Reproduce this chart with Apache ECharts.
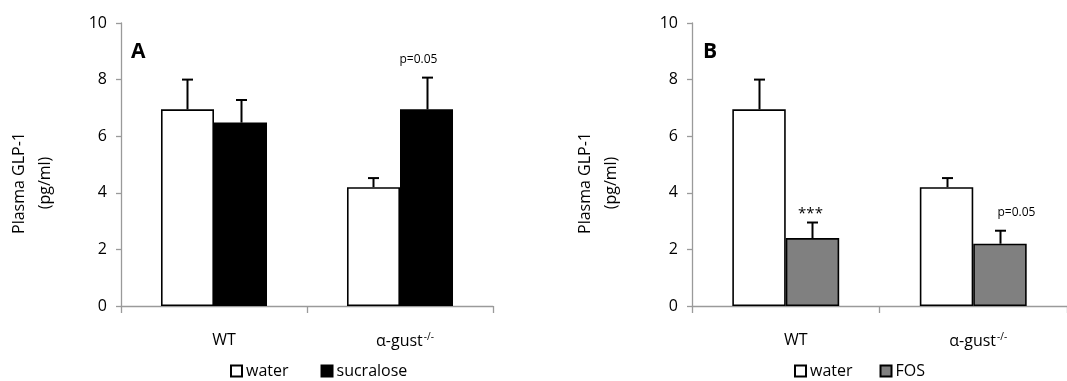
<!DOCTYPE html>
<html>
<head>
<meta charset="utf-8">
<script src="https://cdn.jsdelivr.net/npm/echarts@6/dist/echarts.min.js"></script>
<style>
  html, body { margin: 0; padding: 0; background: #fff; }
  #chart { width: 1067px; height: 381px; }
</style>
</head>
<body>
<div id="chart"></div>
<script>
// Plasma GLP-1 (pg/ml), mean and upper error, per genotype
const categories = ['WT', 'α-gust'];
const yTicks = [0, 2, 4, 6, 8, 10];

// Panel A: water vs sucralose
const waterA = [6.95, 4.2];
const waterAErr = [1.05, 0.32];
const sucraloseA = [6.48, 6.95];
const sucraloseAErr = [0.8, 1.12];
const notesA = ['', 'p=0.05'];

// Panel B: water vs FOS
const waterB = [6.95, 4.2];
const waterBErr = [1.05, 0.32];
const fosB = [2.4, 2.2];
const fosBErr = [0.55, 0.46];
const notesB = ['***', 'p=0.05'];

const FONT = '"Open Sans", "Liberation Sans", sans-serif';
const AXIS_GREY = '#9a9a9a';
const BAR_SHARE = 0.285; // bar width as a share of the category band
const LABEL_SIZE = 16;

function yAxisCfg(gridIndex) {
  return {
    type: 'value', gridIndex, min: 0, max: 10, interval: 2,
    axisLine: { show: true, lineStyle: { color: AXIS_GREY, width: 1.3 } },
    axisTick: { show: true, length: 5, lineStyle: { color: AXIS_GREY, width: 1.3 } },
    splitLine: { show: false },
    axisLabel: {
      margin: 14, color: '#000', fontSize: LABEL_SIZE, fontFamily: FONT,
      formatter: v => (yTicks.includes(v) ? String(v) : '')
    }
  };
}

function xAxisCfg(gridIndex) {
  return {
    type: 'category', gridIndex, data: categories,
    axisLine: { show: true, lineStyle: { color: AXIS_GREY, width: 1.3 } },
    axisTick: { show: true, length: 7, lineStyle: { color: AXIS_GREY, width: 1.3 } },
    axisLabel: {
      margin: 26, color: '#000', fontSize: LABEL_SIZE, fontFamily: FONT,
      formatter: v => (v === 'WT' ? '{wt|WT}' : '{g|' + v + '}{sup|-/-}'),
      rich: {
        wt: { fontSize: LABEL_SIZE, fontFamily: FONT, color: '#000', padding: [0, 0, 0, 20] },
        g: { fontSize: LABEL_SIZE, fontFamily: FONT, color: '#000', padding: [0, 0, 0, 10] },
        sup: { fontSize: 10, fontFamily: FONT, color: '#000', verticalAlign: 'top', padding: [0, 0, 9, 1] }
      }
    }
  };
}

function barSeries(name, data, color, axisIdx) {
  return {
    type: 'bar', name, data,
    xAxisIndex: axisIdx, yAxisIndex: axisIdx,
    barWidth: (BAR_SHARE * 100) + '%', barGap: '0%',
    itemStyle: { color, borderColor: '#000', borderWidth: 1.6 },
    emphasis: { disabled: true },
    z: 2
  };
}

// Upper error bar (with optional annotation) drawn over bar #slot of the group;
// noteDx nudges each annotation sideways
function errorSeries(values, errs, notes, slot, axisIdx, noteDx) {
  return {
    type: 'custom',
    xAxisIndex: axisIdx, yAxisIndex: axisIdx,
    data: values.map((v, i) => [i, v, v + errs[i]]),
    z: 5,
    silent: true,
    renderItem: (params, api) => {
      const idx = api.value(0);
      const band = api.size([1, 0])[0];
      const dx = (slot === 0 ? -1 : 1) * band * BAR_SHARE / 2;
      const base = api.coord([idx, api.value(1)]);
      const top = api.coord([idx, api.value(2)]);
      const x = Math.round(base[0] + dx) + 0.5;
      const cap = 5.5;
      const children = [
        { type: 'line', shape: { x1: x, y1: base[1], x2: x, y2: top[1] },
          style: { stroke: '#000', lineWidth: 2 } },
        { type: 'line', shape: { x1: x - cap, y1: top[1], x2: x + cap, y2: top[1] },
          style: { stroke: '#000', lineWidth: 2 } }
      ];
      const note = notes[idx];
      if (note) {
        const star = note.startsWith('*');
        children.push({
          type: 'text',
          x: x + (noteDx ? noteDx[idx] : 0), y: top[1] - (star ? 1 : 12),
          style: {
            text: note, textAlign: 'center', textVerticalAlign: 'bottom',
            fontSize: star ? 15 : 12, fontFamily: FONT, fill: '#000'
          }
        });
      }
      return { type: 'group', children };
    }
  };
}

function legendCfg(left, names, gap) {
  return {
    left, top: 358, data: names,
    icon: 'rect', itemWidth: 11, itemHeight: 11, itemGap: gap,
    textStyle: { fontSize: LABEL_SIZE, fontFamily: FONT, color: '#000', padding: [0, 0, 0, -1] },
    selectedMode: false
  };
}

function yTitle(cx) {
  return {
    type: 'text', x: cx, y: 183, rotation: Math.PI / 2,
    style: {
      text: 'Plasma GLP-1\n(pg/ml)', textAlign: 'center', textVerticalAlign: 'middle',
      fontSize: LABEL_SIZE, lineHeight: 26, fontFamily: FONT, fill: '#000'
    }
  };
}

const chart = echarts.init(document.getElementById('chart'), null, { renderer: 'canvas' });
chart.setOption({
  animation: false,
  backgroundColor: '#fff',
  grid: [
    { left: 121, right: 574, top: 23, bottom: 75 },
    { left: 692, right: -7, top: 23, bottom: 75 }
  ],
  xAxis: [xAxisCfg(0), xAxisCfg(1)],
  yAxis: [yAxisCfg(0), yAxisCfg(1)],
  legend: [
    legendCfg(225, ['water', 'sucralose'], 32),
    legendCfg(789, ['water', 'FOS'], 27)
  ],
  graphic: [
    yTitle(32),
    yTitle(598),
    { type: 'text', x: 131, y: 42, style: { text: 'A', fontSize: 21, fontWeight: 'bold', fontFamily: FONT, fill: '#000' } },
    { type: 'text', x: 703, y: 42, style: { text: 'B', fontSize: 21, fontWeight: 'bold', fontFamily: FONT, fill: '#000' } }
  ],
  series: [
    barSeries('water', waterA, '#ffffff', 0),
    barSeries('sucralose', sucraloseA, '#000000', 0),
    barSeries('water', waterB, '#ffffff', 1),
    barSeries('FOS', fosB, '#808080', 1),
    errorSeries(waterA, waterAErr, ['', ''], 0, 0),
    errorSeries(sucraloseA, sucraloseAErr, notesA, 1, 0, [0, -9]),
    errorSeries(waterB, waterBErr, ['', ''], 0, 1),
    errorSeries(fosB, fosBErr, notesB, 1, 1, [-2, 16])
  ]
});
</script>
</body>
</html>
